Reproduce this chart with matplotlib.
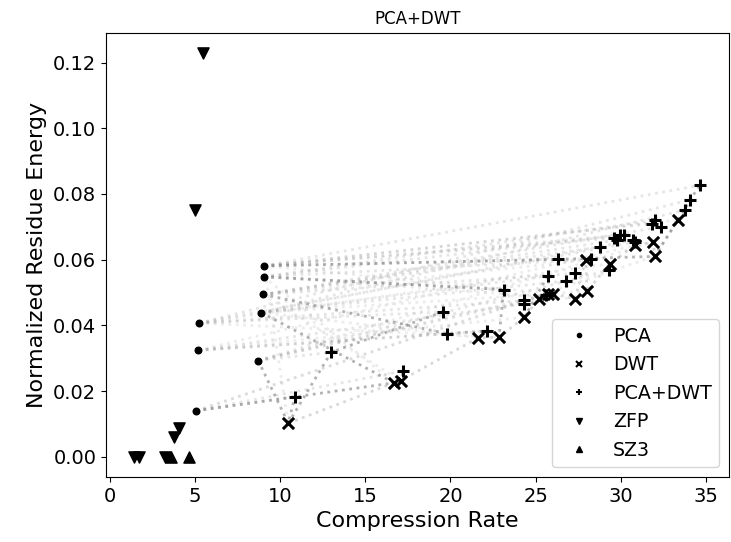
import matplotlib.pyplot as plt
from matplotlib.lines import Line2D
import numpy as np

# PCA points
pca_x = [9.07, 9.05, 9.01, 8.90, 5.25, 5.21, 8.72, 5.08]
pca_y = [0.0581, 0.0548, 0.0494, 0.0439, 0.0407, 0.0324, 0.0293, 0.0140]

# DWT points
dwt_x = [10.48, 16.69, 17.07, 21.63, 22.85, 24.34, 25.17, 25.70, 25.99, 27.30,
         27.93, 28.02, 29.34, 30.83, 31.90, 31.98, 33.35]
dwt_y = [0.0102, 0.0225, 0.0232, 0.0362, 0.0364, 0.0425, 0.0481, 0.0497, 0.0497, 0.0481,
         0.0598, 0.0504, 0.0588, 0.0644, 0.0654, 0.0610, 0.0721]

# PCA+DWT points
pd_x = [10.87, 13.00, 17.23, 19.55, 19.79, 22.15, 23.12, 24.30, 24.34, 25.70,
        25.58, 26.28, 26.76, 27.29, 28.27, 28.80, 29.57, 29.96, 29.77, 30.73,
        29.28, 30.16, 30.83, 31.80, 32.00, 32.38, 33.74, 34.03, 34.67]
pd_y = [0.0183, 0.0318, 0.0261, 0.0441, 0.0375, 0.0383, 0.0509, 0.0466, 0.0476, 0.0550,
        0.0492, 0.0601, 0.0535, 0.0558, 0.0601, 0.0639, 0.0665, 0.0675, 0.0660, 0.0660,
        0.0568, 0.0675, 0.0654, 0.0710, 0.0720, 0.0700, 0.0751, 0.0782, 0.0827]

# ZFP / SZ3
zfp_x = [5.47, 5.00, 4.05, 3.80, 1.45, 1.75, 3.27]
zfp_y = [0.123, 0.075, 0.0087, 0.0060, 0.0, 0.0, 0.0]
sz3_x = [3.62, 4.63]
sz3_y = [0.0, 0.0]

# PCA parent of each PCA+DWT point (light links)
pd_parent = [7, 6, 7, 4, 5, 5, 1, 5, 4, 3, 6, 0, 3, 2, 1, 2, 0, 1, 2, 3,
             6, 0, 4, 0, 1, 2, 3, 4, 0]

# darker chains: (kind, index) sequences
dark_chains = [
    [('pca', 0), ('pd', 11), ('dwt', 15), ('dwt', 16), ('pd', 26), ('pd', 27), ('pd', 28)],
    [('pca', 1), ('pd', 6), ('dwt', 4)],
    [('pca', 2), ('pd', 4), ('pd', 5), ('dwt', 3)],
    [('pca', 3), ('dwt', 1), ('dwt', 2), ('pd', 2)],
    [('pca', 6), ('dwt', 0), ('pd', 0)],
    [('dwt', 0), ('pd', 1), ('pd', 3)],
    [('dwt', 5), ('pd', 9)],
    [('pca', 7), ('dwt', 1)],
]

pts = {'pca': (pca_x, pca_y), 'dwt': (dwt_x, dwt_y), 'pd': (pd_x, pd_y)}

fig, ax = plt.subplots(figsize=(7.31, 5.42), dpi=100)
fig.subplots_adjust(left=0.145, right=0.997, top=0.94, bottom=0.12)

# light web
for i, p in enumerate(pd_parent):
    ax.plot([pca_x[p], pd_x[i]], [pca_y[p], pd_y[i]], ':', color='gray', alpha=0.2, lw=2)
# other light links pca -> dwt
for j in range(len(dwt_x)):
    p = j % len(pca_x)
    ax.plot([pca_x[p], dwt_x[j]], [pca_y[p], dwt_y[j]], ':', color='gray', alpha=0.15, lw=2)

# DWT chain
order = np.argsort(dwt_x)
ax.plot(np.array(dwt_x)[order], np.array(dwt_y)[order], ':', color='gray', alpha=0.3, lw=2)

for chain in dark_chains:
    xs = [pts[k][0][i] for k, i in chain]
    ys = [pts[k][1][i] for k, i in chain]
    ax.plot(xs, ys, ':', color='gray', alpha=0.6, lw=2)

ax.scatter(pca_x, pca_y, marker='.', s=90, color='black', zorder=3)
ax.scatter(dwt_x, dwt_y, marker='x', s=65, color='black', linewidths=2.2, zorder=3)
ax.scatter(pd_x, pd_y, marker='+', s=65, color='black', linewidths=2.2, zorder=3)
ax.scatter(zfp_x, zfp_y, marker='v', s=65, color='black', zorder=3)
ax.scatter(sz3_x, sz3_y, marker='^', s=65, color='black', zorder=3)

ax.set_title('PCA+DWT', fontsize=12)
ax.set_xlabel('Compression Rate', fontsize=16)
ax.set_ylabel('Normalized Residue Energy', fontsize=16)
ax.tick_params(labelsize=14)

handles = [
    Line2D([], [], ls='none', marker='.', ms=6, color='black', label='PCA'),
    Line2D([], [], ls='none', marker='x', ms=5, mew=1.5, color='black', label='DWT'),
    Line2D([], [], ls='none', marker='+', ms=5, mew=1.5, color='black', label='PCA+DWT'),
    Line2D([], [], ls='none', marker='v', ms=5, color='black', label='ZFP'),
    Line2D([], [], ls='none', marker='^', ms=5, color='black', label='SZ3'),
]
ax.legend(handles=handles, loc='lower right', fontsize=13.7)

fig.savefig('out.png', dpi=100)
